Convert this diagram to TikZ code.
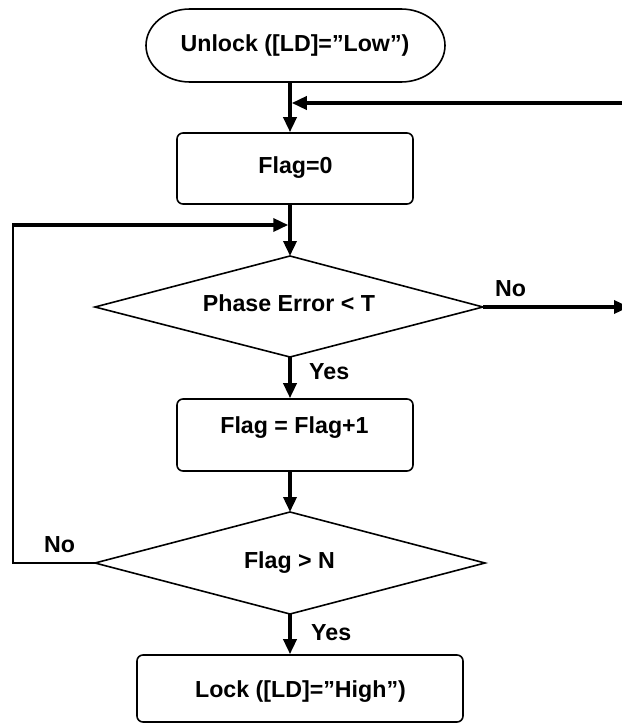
\documentclass[tikz,border=0pt]{standalone}
\usepackage{fontspec}
\setmainfont{Liberation Sans}
\usetikzlibrary{arrows.meta}
\begin{document}
\begin{tikzpicture}[x=1pt,y=-1pt,
  conn/.style={line width=3.5pt,-{Triangle[length=15pt,width=13pt]}},
  thinline/.style={line width=1.8pt},
  outline/.style={line width=1.6pt},
  boxstyle/.style={draw,outline,rounded corners=6pt,inner sep=0pt},
  lbl/.style={font=\fontsize{23.2}{28}\selectfont\bfseries,anchor=base,inner sep=0pt},
]
\useasboundingbox (0,0) rectangle (621,725);

% start terminal
\node (start) [minimum width=299pt,minimum height=73pt,inner sep=0pt] at (295.5,45.5) {};
\draw[outline] (190,9) -- (401,9)
  arc[start angle=-90,end angle=90,x radius=44,y radius=36.5]
  -- (190,82)
  arc[start angle=90,end angle=270,x radius=44,y radius=36.5] -- cycle;
\node (startt) [lbl] at (295,52) {Unlock ([LD]=”Low”)};

% boxes
\node (flag0) [boxstyle,minimum width=236pt,minimum height=71pt] at (295,168.5) {};
\node (flag0t) [lbl] at (295.5,173) {Flag=0};

\node (flag1) [boxstyle,minimum width=236pt,minimum height=72pt] at (295,435) {};
\node (flag1t) [lbl] at (294.5,433) {Flag = Flag+1};

\node (lock) [boxstyle,minimum width=326pt,minimum height=67pt] at (300,688.5) {};
\node (lockt) [lbl] at (300.5,697) {Lock ([LD]=”High”)};

% diamonds
\coordinate (pt) at (290,256);
\coordinate (pl) at (95,307);
\coordinate (pr) at (483,307);
\coordinate (pb) at (290,357);
\draw[outline] (pt) -- (pr) -- (pb) -- (pl) -- cycle;
\node (phase) [lbl] at (289,311) {Phase Error < T};

\coordinate (nt) at (290,512);
\coordinate (nl) at (95,563);
\coordinate (nr) at (485,563);
\coordinate (nb) at (290,614);
\draw[outline] (nt) -- (nr) -- (nb) -- (nl) -- cycle;
\node (flagn) [lbl] at (289.5,568) {Flag > N};

% helper coordinates
\coordinate (j1) at (290,103);
\coordinate (rin) at (622,103);
\coordinate (j2) at (290,225);
\coordinate (lb) at (13,563);
\coordinate (lt) at (13,225);
\coordinate (rout) at (629,307);

% connectors
\draw[conn] (start.south -| j1) -- (flag0.north -| j1);
\draw[conn] (rin) -- ([xshift=1.75pt]j1);
\draw[conn] (flag0.south -| j1) -- (pt);
\draw[conn] (pr) -- (rout);
\draw[conn] (pb) -- (flag1.north -| pb);
\draw[conn] (flag1.south -| pb) -- (nt);
\draw[conn] (nb) -- (lock.north -| nb);
\draw[thinline] (nl) -- (lb) -- ([yshift=-0.9pt]lt);
\draw[conn] ([xshift=-0.9pt]lt) -- ([xshift=-1.75pt]j2);

% labels
\node (no1) [lbl,anchor=base west] at (495,296) {No};
\node (yes1) [lbl,anchor=base west] at (309,379) {Yes};
\node (no2) [lbl,anchor=base west] at (44,552) {No};
\node (yes2) [lbl,anchor=base west] at (311,640) {Yes};
\end{tikzpicture}
\end{document}
